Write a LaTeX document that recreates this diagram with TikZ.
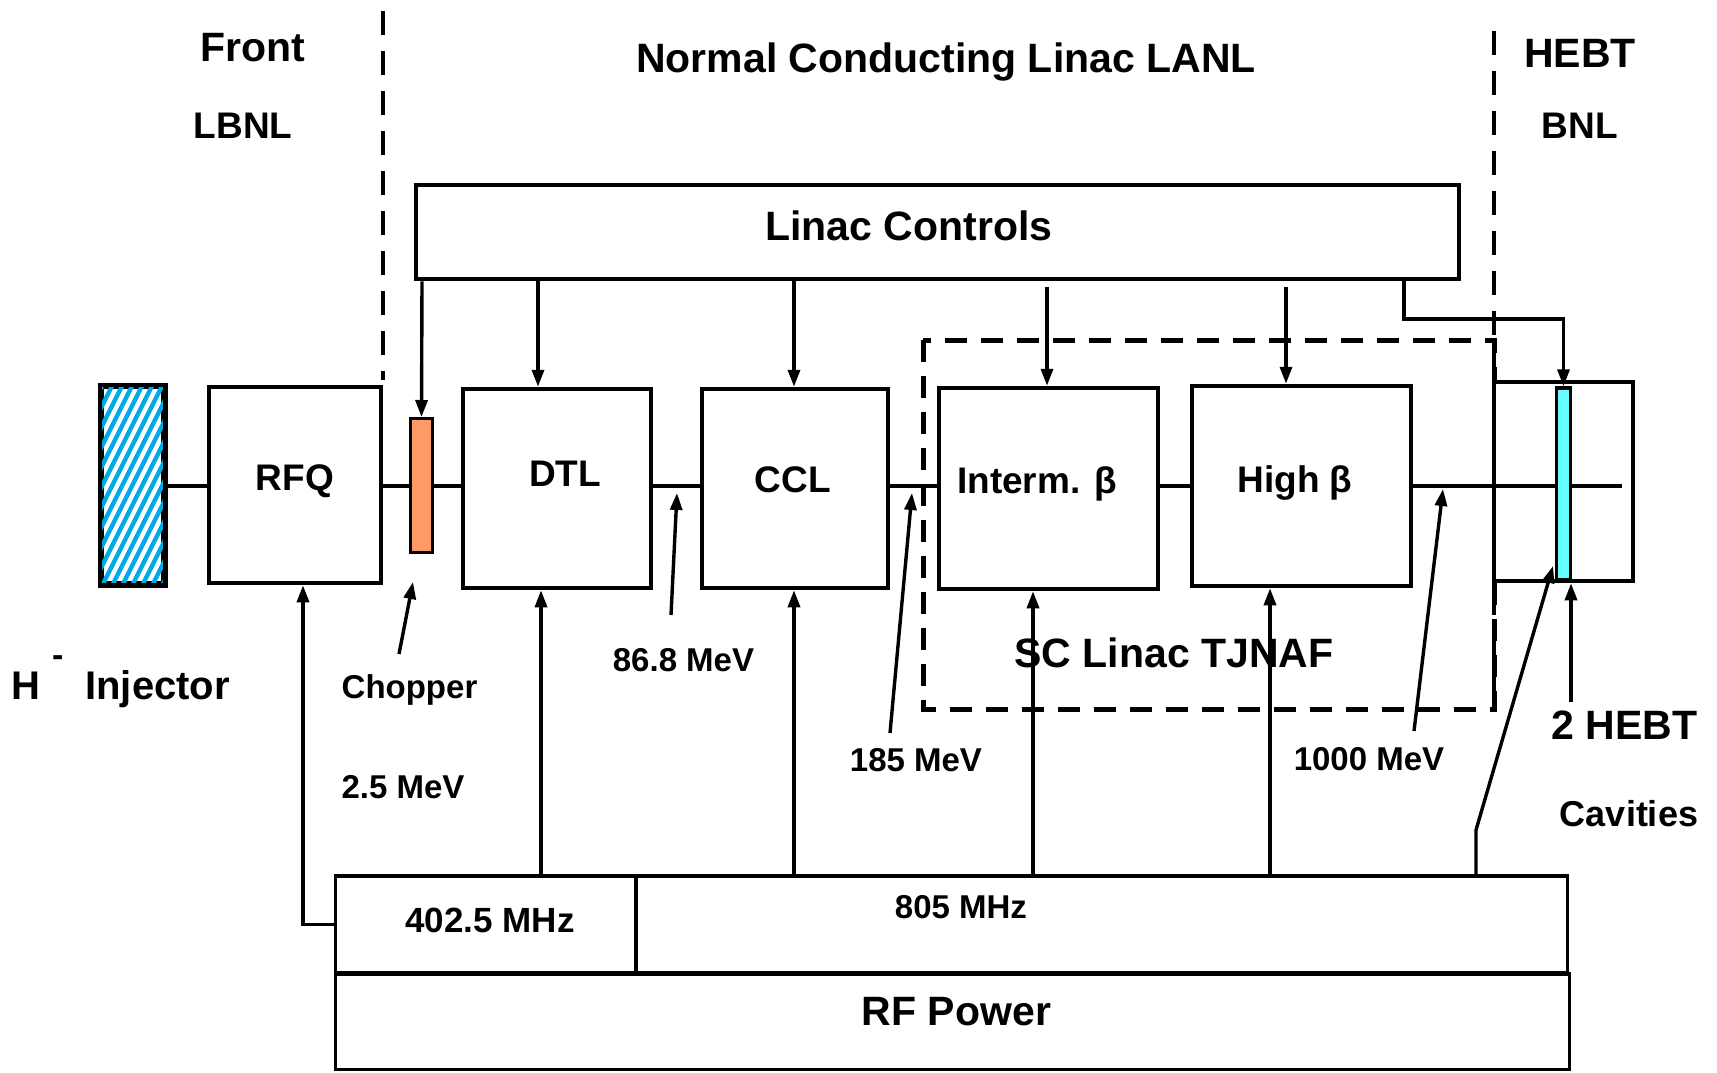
\documentclass[tikz,border=0pt]{standalone}
\usepackage{fontspec}
\setmainfont{Liberation Sans}
\usetikzlibrary{arrows.meta}
\definecolor{hatchblue}{RGB}{0,170,230}
\definecolor{chopor}{RGB}{255,153,102}
\definecolor{cavcyan}{RGB}{102,255,255}
\newcommand\fsz[1]{\fontsize{#1pt}{#1pt}\selectfont\bfseries}
\begin{document}
\begin{tikzpicture}[x=1pt,y=-1pt,
 box/.style={draw, line width=4.5pt, inner sep=0pt, fill=white},
 lab/.style={inner sep=0pt, font=\fsz{#1}, anchor=base, yshift={-0.36*#1}},
 arr/.style={line width=3.4pt, -{Triangle[length=17pt,width=12pt]}},
 beamline/.style={line width=3.4pt},
 divider/.style={line width=4pt, dash pattern=on 24pt off 16pt},
 scdash/.style={line width=5pt, dash pattern=on 22pt off 14pt}]
\useasboundingbox (0,0) rectangle (1717,1072);
% region dividers and SC box
\draw[divider] (383,11) -- (383,380);
\draw[divider] (1494,31) -- (1494,711);
\draw[scdash] (923,340) rectangle (1494,709);
% injector (hatched)
\node[box, minimum width=61pt, minimum height=196pt] (inj) at (132.5,485) {};
\begin{scope}
\clip (inj.south west) rectangle (inj.north east);
\foreach \i in {-20,...,7} \draw[hatchblue, line width=4.4pt] ({100+\i*10},590) -- ++(105,-210);
\end{scope}
\draw[line width=4.5pt] (inj.south west) rectangle (inj.north east);
% boxes
\node[box, minimum width=172pt, minimum height=196pt] (rfq) at (295,485) {};
\node[box, fill=chopor, line width=3pt, minimum width=22pt, minimum height=134pt] (chop) at (421.5,485.5) {};
\node[box, minimum width=188pt, minimum height=199pt] (dtl) at (557,488.5) {};
\node[box, minimum width=186pt, minimum height=199pt] (ccl) at (795,488.5) {};
\node[box, minimum width=219pt, minimum height=201pt] (intb) at (1048.5,488.5) {};
\node[box, minimum width=219pt, minimum height=200pt] (highb) at (1301.5,486) {};
\node[box, minimum width=139pt, minimum height=199pt] (hebt) at (1563.5,481.5) {};
\node[box, fill=cavcyan, line width=3.4pt, minimum width=14pt, minimum height=192pt] (cav) at (1563.5,484) {};
\node[box, minimum width=1043pt, minimum height=94pt] (ctrl) at (937.5,232) {};
\node[box, line width=3.4pt, minimum width=300.5pt, minimum height=97pt] (rf402) at (485.75,924.5) {};
\node[box, line width=3.4pt, minimum width=931.5pt, minimum height=97pt] (rf805) at (1101.75,924.5) {};
\node[box, line width=3.4pt, minimum width=1234pt, minimum height=95.5pt] (rfpow) at (952.5,1021.75) {};
% beam line
\coordinate (beam) at (0,486);
\coordinate (beamend) at (1622,486);
\draw[beamline] (inj.east |- beam) -- (rfq.west |- beam);
\draw[beamline] (rfq.east |- beam) -- (chop.west |- beam);
\draw[beamline] (chop.east |- beam) -- (dtl.west |- beam);
\draw[beamline] (dtl.east |- beam) -- (ccl.west |- beam);
\draw[beamline] (ccl.east |- beam) -- (intb.west |- beam);
\draw[beamline] (intb.east |- beam) -- (highb.west |- beam);
\draw[beamline] (highb.east |- beam) -- (cav.west |- beam);
\draw[beamline] (cav.east |- beam) -- (beamend);
% controls arrows
\draw[arr] (ctrl.south -| 422,0) -- (chop.north);
\draw[arr] (ctrl.south -| 538,0) -- (dtl.north -| 538,0);
\draw[arr] (ctrl.south -| 794,0) -- (ccl.north -| 794,0);
\draw[arr] ([yshift=-6pt]ctrl.south -| 1047,0) -- (intb.north -| 1047,0);
\draw[arr] ([yshift=-6pt]ctrl.south -| 1286,0) -- (highb.north -| 1286,0);
\coordinate (hk) at (1404,319);
\draw[arr] (ctrl.south -| hk) -- (hk) -| (cav.north);
% RF arrows
\draw[arr] (rf402.west) -| (rfq.south -| 303,0);
\draw[arr] (rf402.north -| 541,0) -- (dtl.south -| 541,0);
\draw[arr] (rf805.north -| 794,0) -- (ccl.south -| 794,0);
\draw[arr] (rf805.north -| 1033,0) -- (intb.south -| 1033,0);
\draw[arr] (rf805.north -| 1270,0) -- (highb.south -| 1270,0);
\coordinate (kink) at (1476,830);
\coordinate (cavtip) at (1553,566);
\draw[arr] (rf805.north -| kink) -- (kink) -- (cavtip);
\coordinate (hebtfoot) at (1571,702);
\draw[arr] (hebtfoot) -- (hebtfoot |- hebt.south);
% energy pointers
\coordinate (e1a) at (399,654); \coordinate (e1b) at (413,582);
\coordinate (e2a) at (671,615); \coordinate (e2b) at (677,493);
\coordinate (e3a) at (890,733); \coordinate (e3b) at (912,493);
\coordinate (e4a) at (1414,731); \coordinate (e4b) at (1443,489);
\draw[arr] (e1a) -- (e1b);
\draw[arr] (e2a) -- (e2b);
\draw[arr] (e3a) -- (e3b);
\draw[arr] (e4a) -- (e4b);
% texts
\node[lab=41] (tfront) at (253,47) {Front};
\node[lab=37] (tlbnl) at (243,125) {LBNL};
\node[lab=41] (tnc) at (946,58) {Normal Conducting Linac LANL};
\node[lab=41] (thebt) at (1580,53) {HEBT};
\node[lab=37] (tbnl) at (1580,125) {BNL};
\node[lab=41] (tctrl) at (909,226) {Linac Controls};
\node[lab=37] (trfq) at (295,477) {RFQ};
\node[lab=37] (tdtl) at (565,473) {DTL};
\node[lab=37] (tccl) at (793,479) {CCL};
\node[lab=37] (tintb) at (1037,480) {Interm. β};
\node[lab=37] (thighb) at (1295,479) {High β};
\node[lab=41] (tsc) at (1174,653) {SC Linac TJNAF};
\node[lab=40, anchor=base west] (tinj) at (11,685) {H\hspace{12pt}\raisebox{33pt}{\fsz{34}-}\hspace{22pt}Injector};
\node[lab=33] (tchop) at (409.5,687) {Chopper};
\node[lab=33] (t25) at (403,787) {2.5 MeV};
\node[lab=33] (t868) at (683.5,660) {86.8 MeV};
\node[lab=33] (t185) at (916,760) {185 MeV};
\node[lab=33] (t1000) at (1369,759) {1000 MeV};
\node[lab=41] (t2hebt) at (1624.5,725) {2 HEBT};
\node[lab=36] (tcav) at (1629,814) {Cavities};
\node[lab=35] (t402) at (490,920) {402.5 MHz};
\node[lab=33] (t805) at (961,907) {805 MHz};
\node[lab=41] (trfp) at (956.5,1011) {RF Power};
\end{tikzpicture}
\end{document}
